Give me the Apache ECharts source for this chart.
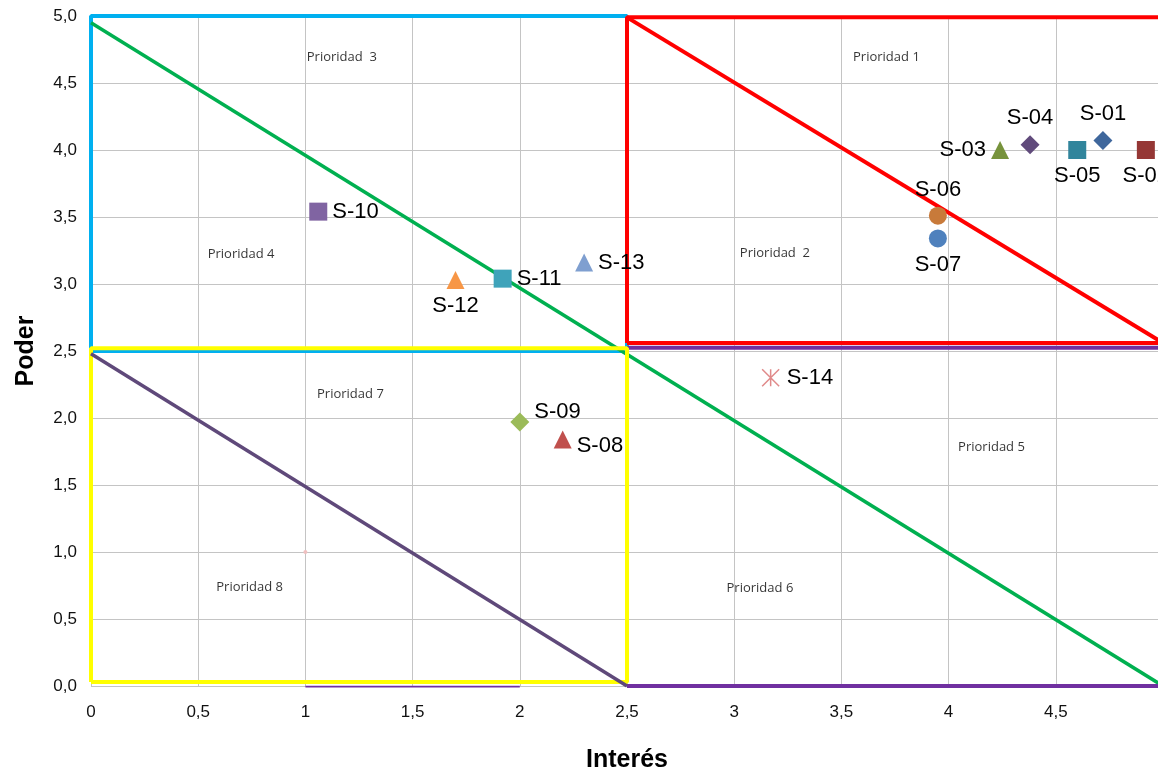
<!DOCTYPE html>
<html>
<head>
<meta charset="utf-8">
<script src="https://cdn.jsdelivr.net/npm/echarts@6/dist/echarts.min.js"></script>
<style>
  html, body { margin: 0; padding: 0; background: #fff; }
  #myChart1 { width: 1158px; height: 772px; }
</style>
</head>
<body>
<div id="myChart1"></div>
<script>
// interesados (stakeholders)
var nombres = ['S-01', 'S-02', 'S-03', 'S-04', 'S-05', 'S-06', 'S-07', 'S-08', 'S-09', 'S-10', 'S-11', 'S-12', 'S-13', 'S-14']
var interes = [4.72, 4.92, 4.24, 4.38, 4.60, 3.95, 3.95, 2.20, 2.00, 1.06, 1.92, 1.70, 2.30, 3.17]
var poder = [4.07, 4.00, 4.00, 4.04, 4.00, 3.51, 3.34, 1.84, 1.97, 3.54, 3.04, 3.03, 3.16, 2.30]

// etiquetas de prioridad
var prioridades = ['Prioridad 1', 'Prioridad  2', 'Prioridad  3', 'Prioridad 4', 'Prioridad 5', 'Prioridad 6', 'Prioridad 7', 'Prioridad 8']
var prioridadX = [3.71, 3.19, 1.17, 0.70, 4.20, 3.12, 1.21, 0.74]
var prioridadY = [4.69, 3.23, 4.69, 3.22, 1.78, 0.73, 2.18, 0.74]

// cuadrantes y diagonales
var cuadroAzul = [[0, 2.5], [0, 5], [2.5, 5], [2.5, 2.5], [0, 2.5]]
var cuadroRojo = [[2.5, 2.56], [2.5, 4.99], [5, 4.99]]
var bordeRojo = [[2.5, 2.56], [5, 2.56]]
var diagRoja = [[2.5, 4.99], [5, 2.56]]
var cuadroAmarillo = [[0, 0.03], [0, 2.52], [2.5, 2.52], [2.5, 0.03], [0, 0.03]]
var diagVerde = [[0, 4.95], [5, 0]]
var diagMorada = [[0, 2.48], [2.5, 0]]
var lineaMorada1 = [[2.5, 2.525], [5, 2.525]]
var lineaMorada2 = [[2.5, 0], [5, 0]]
var lineaMorada3 = [[1, -0.01], [2, -0.01]]
var puntoRosa = [[1, 1]]

var xTicks = ['0', '0,5', '1', '1,5', '2', '2,5', '3', '3,5', '4', '4,5', '']
var yTicks = ['0,0', '0,5', '1,0', '1,5', '2,0', '2,5', '3,0', '3,5', '4,0', '4,5', '5,0']

var simbolos = ['diamond', 'rect', 'triangle', 'diamond', 'rect', 'circle', 'circle', 'triangle', 'diamond', 'rect', 'rect', 'triangle', 'triangle',
  'path://M0,0 L10,10 M10,0 L0,10 M5,0 L5,10']
var colores = ['#3f679c', '#953735', '#77933c', '#604a7b', '#31859c', '#c87a3a', '#4f81bd', '#c0504d', '#9bbb59', '#8064a2', '#3fa3ba', '#f79646', '#7f9fd0', '#e08a8a']
var posiciones = ['top', 'bottom', 'left', 'top', 'bottom', 'top', 'bottom', 'right', 'right', 'right', 'right', 'bottom', 'right', 'right']

var fuente = 'Liberation Sans, Arial, sans-serif'

function linea (data, color, width, z) {
  return {
    type: 'line',
    data: data,
    symbol: 'none',
    silent: true,
    z: z,
    lineStyle: { color: color, width: width }
  }
}

function drawChart () {
  var myChart = echarts.init(document.getElementById('myChart1'))

  var puntos = nombres.map(function (n, i) {
    var esAsterisco = i === 13
    return {
      name: n,
      value: [interes[i], poder[i]],
      symbol: simbolos[i],
      symbolSize: esAsterisco ? 17 : (simbolos[i] === 'diamond' ? 19 : 18),
      itemStyle: esAsterisco
        ? { color: 'none', borderColor: colores[i], borderWidth: 1.5, opacity: 1 }
        : { color: colores[i], opacity: 1 },
      label: {
        show: true,
        formatter: n,
        position: posiciones[i],
        distance: (posiciones[i] === 'top' || posiciones[i] === 'bottom') ? 6 : 5,
        offset: i === 8 ? [0, -10] : (i === 7 ? [0, 6] : [0, 0]),
        color: '#000',
        fontSize: 22,
        fontFamily: fuente
      }
    }
  })

  var etiquetas = prioridades.map(function (p, i) {
    return { value: [prioridadX[i], prioridadY[i]], label: { formatter: p } }
  })

  var option = {
    animation: false,
    backgroundColor: '#ffffff',
    grid: {
      left: 91,
      width: 1072,
      top: 16,
      height: 670,
      outerBoundsMode: 'none'
    },
    xAxis: {
      type: 'value',
      min: 0,
      max: 5,
      interval: 0.5,
      name: 'Interés',
      nameLocation: 'middle',
      nameGap: 62,
      nameTextStyle: { fontSize: 25, fontWeight: 'bold', color: '#000', fontFamily: fuente },
      axisLine: { show: false },
      axisTick: { show: false },
      axisLabel: {
        margin: 18,
        fontSize: 17,
        color: '#111',
        fontFamily: fuente,
        formatter: function (v) { return xTicks[Math.round(v * 2)] }
      },
      splitLine: { show: true, lineStyle: { color: '#c4c4c4', width: 1 } }
    },
    yAxis: {
      type: 'value',
      min: 0,
      max: 5,
      interval: 0.5,
      name: 'Poder',
      nameLocation: 'middle',
      nameGap: 52,
      nameTextStyle: { fontSize: 25, fontWeight: 'bold', color: '#000', fontFamily: fuente },
      axisLine: { show: false },
      axisTick: { show: false },
      axisLabel: {
        margin: 14,
        fontSize: 17,
        color: '#111',
        fontFamily: fuente,
        formatter: function (v) { return yTicks[Math.round(v * 2)] }
      },
      splitLine: { show: true, lineStyle: { color: '#c4c4c4', width: 1 } }
    },
    series: [
      linea(cuadroAzul, '#00b0f0', 4, 2),
      linea(diagVerde, '#00b050', 3.5, 3),
      linea(lineaMorada1, '#7030a0', 4, 3),
      linea(lineaMorada2, '#7030a0', 4, 3),
      linea(lineaMorada3, '#7030a0', 3, 3),
      linea(cuadroAmarillo, '#ffff00', 4, 4),
      linea(diagMorada, '#5f497a', 3.5, 4),
      linea(cuadroRojo, '#ff0000', 4, 5),
      linea(bordeRojo, '#ff0000', 4, 5),
      linea(diagRoja, '#ff0000', 4, 5),
      {
        type: 'scatter',
        data: puntoRosa,
        symbolSize: 4,
        itemStyle: { color: '#f0c0c0', opacity: 1 },
        z: 6
      },
      {
        type: 'scatter',
        data: etiquetas,
        symbolSize: 1,
        itemStyle: { color: 'rgba(0,0,0,0)' },
        silent: true,
        z: 6,
        label: {
          show: true,
          position: 'inside',
          color: '#000',
          fontSize: 13,
          fontFamily: 'Open Sans, Noto Sans, sans-serif'
        }
      },
      {
        type: 'scatter',
        data: puntos,
        z: 10
      }
    ]
  }

  myChart.setOption(option, true)
}

drawChart()
</script>
</body>
</html>
